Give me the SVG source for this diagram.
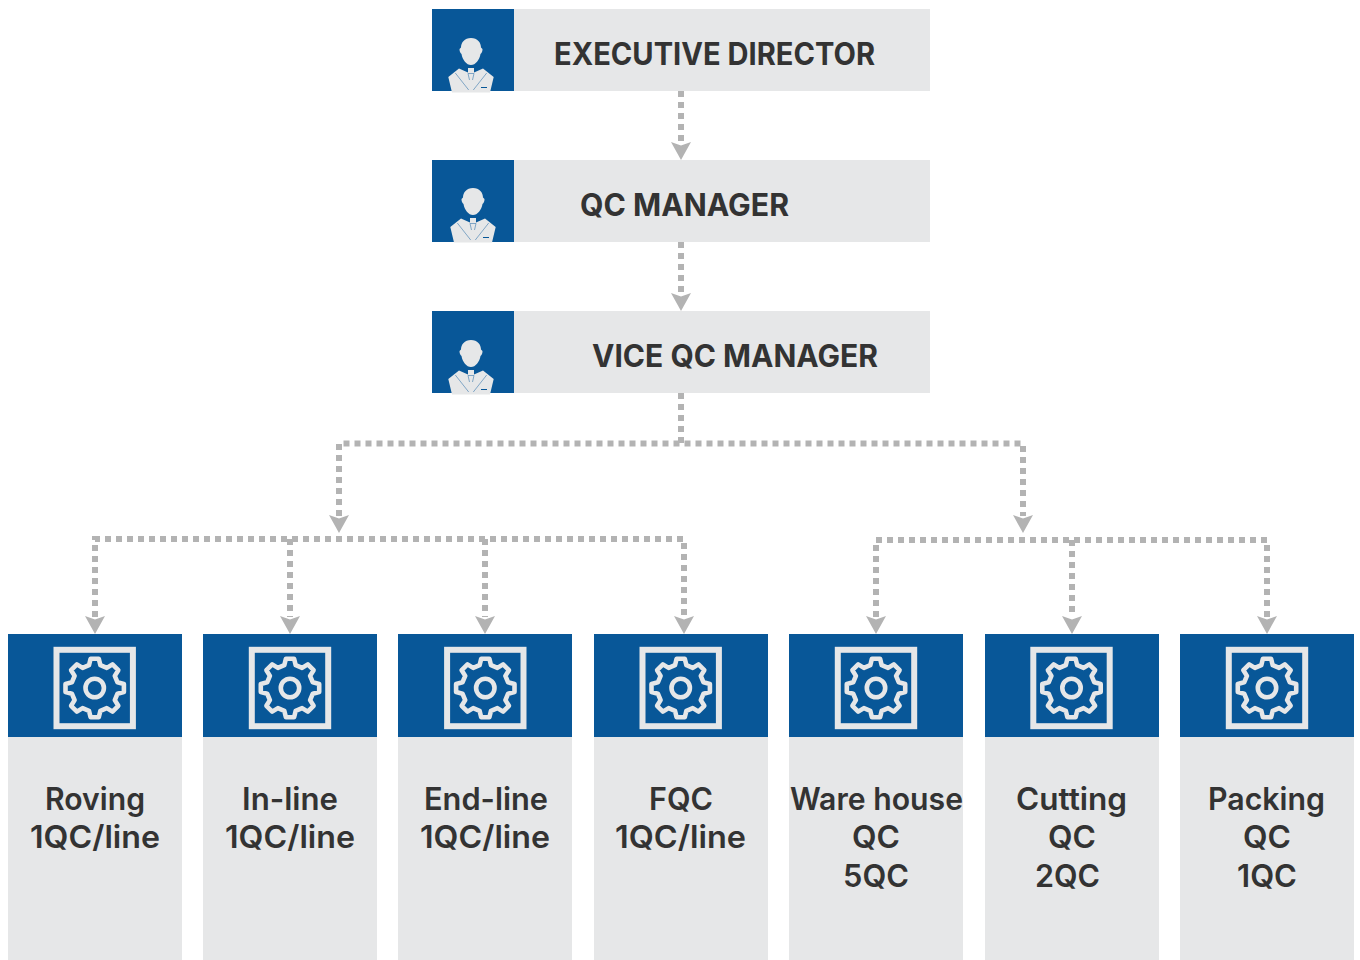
<svg xmlns="http://www.w3.org/2000/svg" xmlns:xlink="http://www.w3.org/1999/xlink" width="1360" height="960" viewBox="0 0 1360 960">
<style>
.blue{fill:#085798}
.gray{fill:#e6e7e8}
.t{font-family:"Inter","Liberation Sans",sans-serif;font-weight:600;fill:#333;font-size:31px}
.h{font-size:31px;font-weight:700}
.c{fill:none;stroke:#b3b3b3;stroke-width:6;stroke-dasharray:6 5}
.a{fill:#b3b3b3}
.gear{fill:none;stroke:#e6e7e8;stroke-width:4.600;stroke-linejoin:round}
</style>
<defs>
<g id="person">
<path class="gray" d="M0 38C-6.500 38-10 42.500-10 47.500L-11.500 49C-11.500 52-10.500 53-9.500 54C-8.500 60-4.500 65 0 65C4.500 65 8.500 60 9.500 54C10.500 53 11.500 52 11.500 49L10 47.500C10 42.500 6.500 38 0 38Z"/>
<path class="gray" d="M-22.700 77L-12 68.500L-3 72.500L-3 68L3 68L3 72.500L12 68.500L22.700 77L19 92.500L-19 92.500Z"/>
<path d="M-15.700 73L-2.300 90M15.700 73L2.300 90M-3 73.500L-1.500 80M3 73.500L1.500 80M-3 73.500H3" fill="none" stroke="#3b78ad" stroke-width=".6"/>
<path d="M10 87.500H16" stroke="#085798" stroke-width="1"/>
</g>
<g id="gearIcon">
<rect x="-38.200" y="-38.200" width="76.400" height="76.400" fill="none" stroke="#e6e7e8" stroke-width="6"/>
<path class="gear" d="M-4.100-29.200L4.100-29.200L5.700-22.800L12.100-20.100L17.800-23.600L23.600-17.800L20.100-12.100L22.800-5.700L29.200-4.100L29.200 4.100L22.800 5.700L20.100 12.100L23.600 17.800L17.800 23.600L12.100 20.100L5.700 22.800L4.100 29.200L-4.100 29.200L-5.700 22.800L-12.100 20.100L-17.800 23.600L-23.600 17.800L-20.100 12.100L-22.800 5.700L-29.200 4.100L-29.200-4.100L-22.800-5.700L-20.100-12.100L-23.600-17.800L-17.800-23.600L-12.100-20.100L-5.700-22.800Z"/>
<circle r="9.200" class="gear"/>
</g>
<path id="arrow" class="a" d="M-10-18L0-14.500L10-18L0 0Z"/>
</defs>

<g id="connectors">
<path class="c" d="M681 91V143"/>
<use xlink:href="#arrow" href="#arrow" x="681" y="160"/>
<path class="c" d="M681 242V294"/>
<use xlink:href="#arrow" href="#arrow" x="681" y="311"/>
<path class="c" d="M681 393V443.500"/>
<path class="c" d="M339 516V443.500H1023V516"/>
<use xlink:href="#arrow" href="#arrow" x="339" y="533"/>
<use xlink:href="#arrow" href="#arrow" x="1023" y="533"/>
<path class="c" d="M95 617V539H684V617"/>
<path class="c" d="M290 539V617"/>
<path class="c" d="M485 539V617"/>
<use xlink:href="#arrow" href="#arrow" x="95" y="634"/>
<use xlink:href="#arrow" href="#arrow" x="290" y="634"/>
<use xlink:href="#arrow" href="#arrow" x="485" y="634"/>
<use xlink:href="#arrow" href="#arrow" x="684" y="634"/>
<path class="c" d="M876 617V540H1267V617"/>
<path class="c" d="M1072 540V617"/>
<use xlink:href="#arrow" href="#arrow" x="876" y="634"/>
<use xlink:href="#arrow" href="#arrow" x="1072" y="634"/>
<use xlink:href="#arrow" href="#arrow" x="1267" y="634"/>
</g>

<g id="executive-director">
<rect class="gray" x="432" y="9" width="498" height="82"/>
<rect class="blue" x="432" y="9" width="82" height="82"/>
<use xlink:href="#person" href="#person" x="471" y="0"/>
<text class="t h" x="554" y="65" textLength="321" lengthAdjust="spacingAndGlyphs">EXECUTIVE DIRECTOR</text>
</g>
<g id="qc-manager">
<rect class="gray" x="432" y="160" width="498" height="82"/>
<rect class="blue" x="432" y="160" width="82" height="82"/>
<use xlink:href="#person" href="#person" x="473" y="150"/>
<text class="t h" x="580" y="216" textLength="209" lengthAdjust="spacingAndGlyphs">QC MANAGER</text>
</g>
<g id="vice-qc-manager">
<rect class="gray" x="432" y="311" width="498" height="82"/>
<rect class="blue" x="432" y="311" width="82" height="82"/>
<use xlink:href="#person" href="#person" x="471" y="302"/>
<text class="t h" x="592" y="367" textLength="286" lengthAdjust="spacingAndGlyphs">VICE QC MANAGER</text>
</g>

<g id="roving">
<rect class="gray" x="8" y="634" width="174" height="326"/>
<rect class="blue" x="8" y="634" width="174" height="103"/>
<use xlink:href="#gearIcon" href="#gearIcon" x="94.700" y="688"/>
<text class="t" x="45" y="810" textLength="100" lengthAdjust="spacingAndGlyphs">Roving</text>
<text class="t" x="30" y="848" textLength="130" lengthAdjust="spacingAndGlyphs">1QC/line</text>
</g>
<g id="in-line">
<rect class="gray" x="203" y="634" width="174" height="326"/>
<rect class="blue" x="203" y="634" width="174" height="103"/>
<use xlink:href="#gearIcon" href="#gearIcon" x="290" y="688"/>
<text class="t" x="242" y="810" textLength="96" lengthAdjust="spacingAndGlyphs">In-line</text>
<text class="t" x="225" y="848" textLength="130" lengthAdjust="spacingAndGlyphs">1QC/line</text>
</g>
<g id="end-line">
<rect class="gray" x="398" y="634" width="174" height="326"/>
<rect class="blue" x="398" y="634" width="174" height="103"/>
<use xlink:href="#gearIcon" href="#gearIcon" x="485.300" y="688"/>
<text class="t" x="424" y="810" textLength="124" lengthAdjust="spacingAndGlyphs">End-line</text>
<text class="t" x="420" y="848" textLength="130" lengthAdjust="spacingAndGlyphs">1QC/line</text>
</g>
<g id="fqc">
<rect class="gray" x="594" y="634" width="174" height="326"/>
<rect class="blue" x="594" y="634" width="174" height="103"/>
<use xlink:href="#gearIcon" href="#gearIcon" x="680.700" y="688"/>
<text class="t" x="649" y="810" textLength="64" lengthAdjust="spacingAndGlyphs">FQC</text>
<text class="t" x="615" y="848" textLength="131" lengthAdjust="spacingAndGlyphs">1QC/line</text>
</g>
<g id="ware-house">
<rect class="gray" x="789" y="634" width="174" height="326"/>
<rect class="blue" x="789" y="634" width="174" height="103"/>
<use xlink:href="#gearIcon" href="#gearIcon" x="876" y="688"/>
<text class="t" x="790" y="810" textLength="173" lengthAdjust="spacingAndGlyphs">Ware house</text>
<text class="t" x="852" y="848" textLength="48" lengthAdjust="spacingAndGlyphs">QC</text>
<text class="t" x="843" y="887" textLength="66" lengthAdjust="spacingAndGlyphs">5QC</text>
</g>
<g id="cutting">
<rect class="gray" x="985" y="634" width="174" height="326"/>
<rect class="blue" x="985" y="634" width="174" height="103"/>
<use xlink:href="#gearIcon" href="#gearIcon" x="1071.500" y="688"/>
<text class="t" x="1016" y="810" textLength="111" lengthAdjust="spacingAndGlyphs">Cutting</text>
<text class="t" x="1048" y="848" textLength="48" lengthAdjust="spacingAndGlyphs">QC</text>
<text class="t" x="1035" y="887" textLength="65" lengthAdjust="spacingAndGlyphs">2QC</text>
</g>
<g id="packing">
<rect class="gray" x="1180" y="634" width="174" height="326"/>
<rect class="blue" x="1180" y="634" width="174" height="103"/>
<use xlink:href="#gearIcon" href="#gearIcon" x="1267" y="688"/>
<text class="t" x="1208" y="810" textLength="117" lengthAdjust="spacingAndGlyphs">Packing</text>
<text class="t" x="1243" y="848" textLength="48" lengthAdjust="spacingAndGlyphs">QC</text>
<text class="t" x="1237" y="887" textLength="60" lengthAdjust="spacingAndGlyphs">1QC</text>
</g>
</svg>
